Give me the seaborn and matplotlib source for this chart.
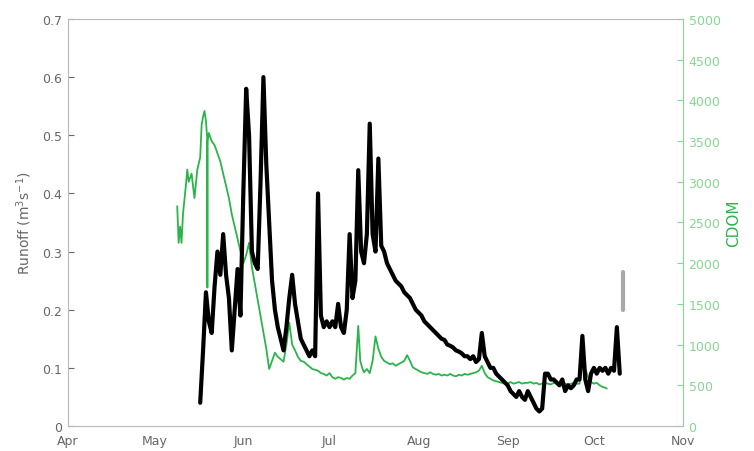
import numpy as np
import pandas as pd
import matplotlib
matplotlib.use("Agg")
import matplotlib.pyplot as plt
import seaborn as sns

# Season start; all day offsets below count from this date
season_start = pd.Timestamp("2013-04-01")

# Daily runoff (m3/s), day offsets from 1 April
runoff_day = list(range(46, 193))
runoff_val = [
    0.04, 0.13, 0.23, 0.18, 0.16, 0.24, 0.30, 0.26, 0.33, 0.26,
    0.22, 0.13, 0.20, 0.27, 0.19, 0.40, 0.58, 0.50, 0.30, 0.28,
    0.27, 0.42, 0.60, 0.45, 0.35, 0.25, 0.20, 0.17, 0.15, 0.13,
    0.17, 0.22, 0.26, 0.21, 0.18, 0.15, 0.14, 0.13, 0.12, 0.13,
    0.12, 0.40, 0.19, 0.17, 0.18, 0.17, 0.18, 0.17, 0.21, 0.17,
    0.16, 0.20, 0.33, 0.22, 0.25, 0.44, 0.30, 0.28, 0.33, 0.52,
    0.33, 0.30, 0.46, 0.31, 0.30, 0.28, 0.27, 0.26, 0.25, 0.245,
    0.24, 0.23, 0.225, 0.22, 0.21, 0.20, 0.195, 0.19, 0.18, 0.175,
    0.17, 0.165, 0.16, 0.155, 0.15, 0.148, 0.14, 0.138, 0.135, 0.13,
    0.128, 0.125, 0.12, 0.12, 0.115, 0.12, 0.11, 0.115, 0.16, 0.12,
    0.11, 0.10, 0.10, 0.09, 0.085, 0.08, 0.075, 0.07, 0.06, 0.055,
    0.05, 0.06, 0.05, 0.045, 0.06, 0.05, 0.04, 0.03, 0.025, 0.03,
    0.09, 0.09, 0.08, 0.08, 0.075, 0.07, 0.08, 0.06, 0.07, 0.065,
    0.07, 0.08, 0.08, 0.155, 0.08, 0.06, 0.09, 0.10, 0.09, 0.10,
    0.095, 0.10, 0.09, 0.10, 0.095, 0.17, 0.09,
]

# Last, separately logged runoff readings
runoff_tail_day = [193.3, 193.3]
runoff_tail_val = [0.20, 0.265]

# CDOM record (right axis), day offsets from 1 April
cdom_day = [
    38, 38.5, 39, 39.5, 40, 41, 41.5, 42, 43, 44, 45, 46, 46.5, 47, 47.5,
    48, 48.4, 48.5, 48.6, 49, 50, 51, 52, 53, 54, 55, 56, 57, 58, 59,
    60, 61, 62, 63, 64, 65, 66, 67, 68, 69, 70, 71, 72, 73, 74,
    75, 76, 77, 78, 79, 80, 81, 82, 83, 84, 85, 86, 87, 88, 89,
    90, 91, 92, 93, 94, 95, 96, 97, 98, 99, 100, 101, 101.7, 102.5, 103,
    104, 105, 106, 107, 108, 109, 110, 111, 112, 113, 114, 115, 116, 117, 118,
    119, 120, 121, 122, 123, 124, 125, 126, 127, 128, 129, 130, 131, 132, 133,
    134, 135, 136, 137, 138, 139, 140, 141, 142, 143, 144, 145, 146, 147, 148,
    149, 150, 151, 152, 153, 154, 155, 156, 157, 158, 159, 160, 161, 162, 163,
    164, 165, 166, 167, 168, 169, 170, 171, 172, 173, 174, 175, 176, 177, 178,
    179, 180, 181, 182, 183, 184, 185, 186, 187, 187.5,
]
cdom_val = [
    2700, 2250, 2450, 2250, 2600, 2950, 3150, 3000, 3100, 2800, 3150, 3300, 3700, 3800, 3870,
    3750, 3550, 1700, 3500, 3600, 3500, 3450, 3350, 3250, 3100, 2950, 2800, 2600, 2450, 2300,
    2150, 2000, 2100, 2250, 1950, 1750, 1550, 1350, 1150, 950, 700, 800, 900, 850, 820,
    790, 1000, 1270, 1000, 930, 850, 800, 790, 760, 730, 700, 690, 680, 650, 640,
    620, 650, 600, 580, 600, 590, 570, 590, 580, 620, 650, 1230, 800, 700, 660,
    700, 650, 800, 1100, 950, 850, 800, 780, 760, 770, 740, 760, 780, 800, 870,
    800, 720, 700, 680, 660, 650, 640, 660, 640, 630, 640, 620, 630, 620, 640,
    620, 610, 630, 620, 640, 630, 640, 650, 660, 680, 740, 650, 600, 580, 560,
    550, 540, 530, 520, 520, 540, 520, 530, 540, 520, 530, 530, 540, 520, 530,
    510, 520, 530, 520, 510, 530, 520, 530, 510, 520, 510, 520, 530, 520, 520,
    800, 700, 600, 540, 520, 530, 500, 480, 470, 460,
]

month_labels = ["Apr", "May", "Jun", "Jul", "Aug", "Sep", "Oct", "Nov"]

runoff = pd.DataFrame({
    "date": season_start + pd.to_timedelta(runoff_day, unit="D"),
    "runoff": runoff_val,
})
runoff_tail = pd.DataFrame({
    "date": season_start + pd.to_timedelta(runoff_tail_day, unit="D"),
    "runoff": runoff_tail_val,
})
cdom = pd.DataFrame({
    "date": season_start + pd.to_timedelta(cdom_day, unit="D"),
    "cdom": cdom_val,
})

sns.set_style("white")
plt.rcParams["font.family"] = ["DejaVu Sans"]

tick_grey = "#666666"
spine_grey = "#b8b8b8"
cdom_green = "#2bb44a"
cdom_axis_green = "#86d694"

fig = plt.figure(figsize=(7.54, 4.52), dpi=100)
ax = fig.add_axes([0.0902, 0.0553, 0.8156, 0.9005])
ax2 = ax.twinx()

sns.lineplot(data=runoff, x="date", y="runoff", ax=ax, color="black",
             lw=3.0, estimator=None, sort=False)
sns.lineplot(data=runoff_tail, x="date", y="runoff", ax=ax, color="#a8a8a8",
             lw=3.0, estimator=None, sort=False)
sns.lineplot(data=cdom, x="date", y="cdom", ax=ax2, color=cdom_green,
             lw=1.3, estimator=None, sort=False)

ax.set_zorder(ax2.get_zorder() + 1)
ax.patch.set_visible(False)

# Left axis: runoff
ax.set_ylim(0, 0.7)
ax.set_yticks(np.arange(0, 0.71, 0.1))
ax.set_yticklabels(["0"] + [f"{v:.1f}" for v in np.arange(0.1, 0.71, 0.1)])
ax.set_ylabel("Runoff (m$^3$s$^{-1}$)", color=tick_grey, fontsize=10, labelpad=6)

# Shared date axis
month_ticks = pd.date_range(season_start, periods=len(month_labels), freq="MS")
ax.set_xlim(month_ticks[0], month_ticks[-1])
ax.set_xticks(month_ticks)
ax.set_xticklabels(month_labels)
ax.set_xlabel("")

ax.tick_params(axis="both", direction="in", length=4, width=0.8,
               colors=tick_grey, labelsize=9, pad=4)
ax.tick_params(axis="x", pad=6)
for side in ["left", "bottom", "top"]:
    ax.spines[side].set_color(spine_grey)
ax.spines["right"].set_visible(False)

# Right axis: CDOM
ax2.set_ylim(0, 5000)
ax2.set_yticks(np.arange(0, 5001, 500))
ax2.set_ylabel("CDOM", color=cdom_green, fontsize=11, labelpad=4)
ax2.tick_params(axis="y", direction="in", length=4, width=0.8,
                colors=cdom_axis_green, labelsize=9, pad=4)
for side in ["left", "bottom", "top"]:
    ax2.spines[side].set_visible(False)
ax2.spines["right"].set_color(cdom_axis_green)

fig.savefig("out.png", dpi=100)
